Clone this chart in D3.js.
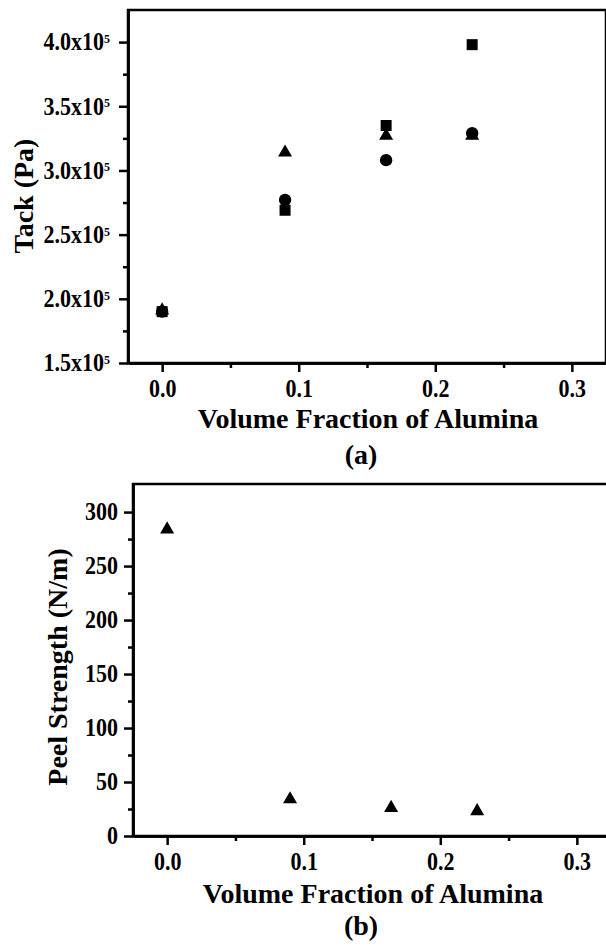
<!DOCTYPE html>
<html>
<head>
<meta charset="utf-8">
<script src="https://cdn.jsdelivr.net/npm/d3@7"></script>
<style>
  body { margin: 0; background: #fff; }
  svg text { font-family: "Liberation Serif", "Times New Roman", serif; font-weight: bold; fill: #000; }
</style>
</head>
<body>
<svg id="chart" width="606" height="948"></svg>
<script>
// data
var fraction = [0, 0.09, 0.164, 0.227];
var tackSquare = [1.90e5, 2.69e5, 3.35e5, 3.98e5];
var tackCircle = [1.90e5, 2.77e5, 3.08e5, 3.29e5];
var tackTriangle = [1.91e5, 3.14e5, 3.27e5, 3.27e5];
var peelTriangle = [284, 34, 26, 23];

var xTicks = [0, 0.1, 0.2, 0.3], xMinor = [0.05, 0.15, 0.25];
var tackTicks = [1.5e5, 2.0e5, 2.5e5, 3.0e5, 3.5e5, 4.0e5];
var tackMinor = [1.75e5, 2.25e5, 2.75e5, 3.25e5, 3.75e5];
var peelTicks = [0, 50, 100, 150, 200, 250, 300];
var peelMinor = [25, 75, 125, 175, 225, 275];

var svg = d3.select("#chart");

function panel(o){
	var x = d3.scaleLinear().domain([-0.025, 0.325]).range([o.left, o.right]);
	var y = d3.scaleLinear().domain(o.yDomain).range([o.bottom, o.top]);
	var g = svg.append("g");

	// frame
	g.append("rect").attr("x", o.left).attr("y", o.top)
		.attr("width", o.right - o.left).attr("height", o.bottom - o.top)
		.attr("fill", "none").attr("stroke", "#000").attr("stroke-width", 2.5);

	// minor ticks
	g.append("g").attr("transform", "translate(0," + o.bottom + ")")
		.call(d3.axisBottom(x).tickValues(xMinor).tickSize(5).tickSizeOuter(0).tickFormat(""));
	g.append("g").attr("transform", "translate(" + o.left + ",0)")
		.call(d3.axisLeft(y).tickValues(o.yMinor).tickSize(5).tickSizeOuter(0).tickFormat(""));

	// major ticks
	var ax = g.append("g").attr("transform", "translate(0," + o.bottom + ")")
		.call(d3.axisBottom(x).tickValues(xTicks).tickSize(9).tickPadding(6).tickSizeOuter(0)
			.tickFormat(d3.format(".1f")));
	var ay = g.append("g").attr("transform", "translate(" + o.left + ",0)")
		.call(d3.axisLeft(y).tickValues(o.yTicks).tickSize(9).tickPadding(o.yPad).tickSizeOuter(0)
			.tickFormat(o.yFormat));

	g.selectAll(".domain").attr("stroke-width", 2.5);
	g.selectAll(".tick line").attr("stroke-width", 2.5);
	// the print's digits are a bit taller than wide
	ax.selectAll("text").style("font-size", "22px").attr("transform", "scale(1,1.1)");
	ay.selectAll("text").style("font-size", "22px").attr("transform", "scale(1,1.1)");
	if (o.sup) {
		ay.selectAll("text").append("tspan").text("5")
			.attr("dy", "-0.55em").style("font-size", "12px");
	}

	// titles
	g.append("text").attr("x", (o.left + o.right) / 2 + 1).attr("y", o.bottom + o.xTitleDy)
		.attr("text-anchor", "middle").style("font-size", "28px").text("Volume Fraction of Alumina");
	g.append("text").attr("x", 361).attr("y", o.bottom + o.capDy)
		.attr("text-anchor", "middle").style("font-size", "28px").text(o.caption);
	g.append("text").attr("transform", "translate(" + o.yTitleX + "," + o.yTitleY + ") rotate(-90)")
		.attr("text-anchor", "middle").style("font-size", "28px").text(o.yTitle);

	return {g: g, x: x, y: y};
}

var top1 = panel({left: 128, right: 606, top: 10, bottom: 363,
	yDomain: [1.5e5, 4.25e5], yTicks: tackTicks, yMinor: tackMinor, yPad: 9, sup: true,
	yFormat: function(d){ return (d / 1e5).toFixed(1) + "x10"; },
	xTitleDy: 65, capDy: 101, yTitleX: 33, yTitleY: 196, yTitle: "Tack (Pa)", caption: "(a)"});

var bot = panel({left: 133, right: 611, top: 484, bottom: 836,
	yDomain: [0, 326], yTicks: peelTicks, yMinor: peelMinor, yPad: 6,
	yFormat: d3.format("d"),
	xTitleDy: 67, capDy: 99, yTitleX: 67, yTitleY: 667, yTitle: "Peel Strength (N/m)", caption: "(b)"});

function marks(p, vals, type, size){
	p.g.selectAll(null).data(vals).enter().append("path")
		.attr("d", d3.symbol().type(type).size(size))
		.attr("transform", function(d, i){ return "translate(" + p.x(fraction[i]) + "," + p.y(d) + ")"; })
		.attr("fill", "#000");
}

marks(top1, tackSquare, d3.symbolSquare, 121);
marks(top1, tackCircle, d3.symbolCircle, 120);
marks(top1, tackTriangle, d3.symbolTriangle, 85);
marks(bot, peelTriangle, d3.symbolTriangle, 85);
</script>
</body>
</html>
